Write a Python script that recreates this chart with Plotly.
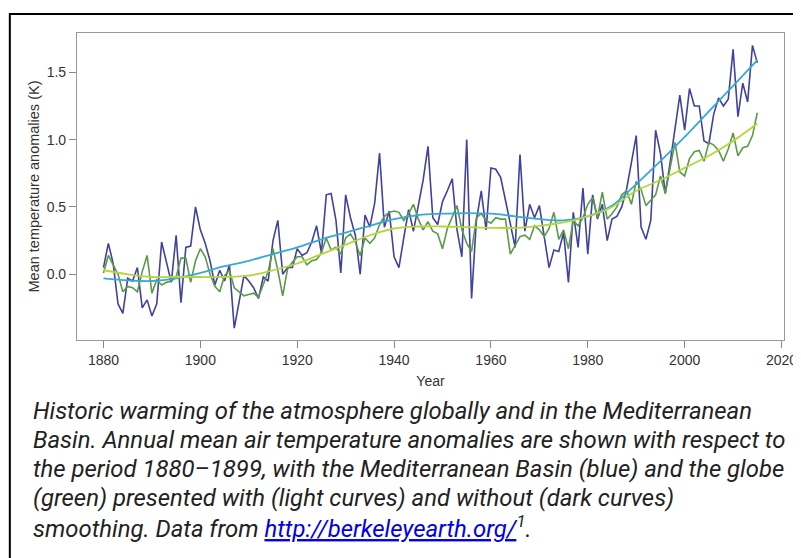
import plotly.graph_objects as go

years = list(range(1880, 2016))

med_annual = [
    0.05, 0.23, 0.08, -0.22, -0.29, -0.03, -0.05, 0.05, -0.25, -0.19,
    -0.31, -0.22, 0.24, 0.10, -0.06, 0.29, -0.21, 0.20, 0.21, 0.50,
    0.33, 0.23, 0.10, -0.08, 0.03, -0.05, 0.07, -0.40, -0.20, -0.01,
    -0.05, -0.10, -0.18, -0.02, -0.05, 0.25, 0.40, 0.00, 0.05, 0.05,
    0.19, 0.14, 0.16, 0.24, 0.36, 0.16, 0.59, 0.60, 0.40, 0.01,
    0.59, 0.42, 0.29, 0.00, 0.44, 0.35, 0.53, 0.90, 0.35, 0.47,
    0.13, 0.05, 0.27, 0.48, 0.32, 0.52, 0.70, 0.95, 0.42, 0.37,
    0.54, 0.62, 0.71, 0.33, 0.13, 1.00, -0.18, 0.40, 0.62, 0.33,
    0.79, 0.78, 0.72, 0.55, 0.38, 0.20, 0.89, 0.32, 0.52, 0.42,
    0.51, 0.27, 0.05, 0.18, 0.17, 0.31, -0.06, 0.46, 0.20, 0.64,
    0.15, 0.59, 0.41, 0.52, 0.25, 0.41, 0.43, 0.50, 0.63, 0.83,
    1.03, 0.35, 0.26, 0.40, 1.07, 0.90, 0.60, 0.83, 1.10, 1.33,
    1.07, 1.38, 1.25, 1.25, 0.99, 0.97, 1.19, 1.31, 1.25, 1.30,
    1.67, 1.17, 1.42, 1.28, 1.70, 1.57,
]

globe_annual = [
    0.01, 0.14, 0.07, 0.00, -0.13, -0.09, -0.10, -0.13, 0.02, 0.14,
    -0.14, -0.04, -0.08, -0.06, -0.05, -0.02, 0.12, 0.12, -0.06, 0.10,
    0.19, 0.13, 0.00, -0.09, -0.13, -0.01, 0.03, -0.10, -0.13, -0.16,
    -0.15, -0.14, -0.17, -0.07, 0.02, 0.19, 0.03, -0.16, 0.04, 0.09,
    0.13, 0.13, 0.07, 0.10, 0.11, 0.16, 0.27, 0.18, 0.20, 0.15,
    0.27, 0.30, 0.24, 0.14, 0.27, 0.23, 0.27, 0.37, 0.43, 0.46,
    0.47, 0.46, 0.40, 0.45, 0.52, 0.41, 0.33, 0.39, 0.32, 0.30,
    0.19, 0.34, 0.42, 0.51, 0.33, 0.23, 0.17, 0.42, 0.45, 0.40,
    0.38, 0.42, 0.41, 0.41, 0.15, 0.22, 0.28, 0.29, 0.26, 0.36,
    0.33, 0.28, 0.34, 0.46, 0.26, 0.33, 0.19, 0.40, 0.36, 0.42,
    0.52, 0.57, 0.42, 0.61, 0.41, 0.45, 0.50, 0.59, 0.62, 0.52,
    0.69, 0.63, 0.51, 0.55, 0.59, 0.73, 0.60, 0.79, 0.98, 0.76,
    0.73, 0.86, 0.91, 0.92, 0.84, 0.98, 0.96, 0.92, 0.84, 0.93,
    1.05, 0.88, 0.94, 0.95, 1.03, 1.20,
]

smooth_years = list(range(1880, 2016, 5))
med_smooth = [
    -0.03, -0.045, -0.05, -0.03, 0.01, 0.06, 0.10, 0.15, 0.20, 0.26,
    0.31, 0.36, 0.41, 0.44, 0.45, 0.455, 0.45, 0.43, 0.41, 0.40,
    0.43, 0.51, 0.67, 0.84, 1.02, 1.21, 1.40, 1.59,
]
globe_smooth = [
    0.03, 0.00, -0.02, -0.02, -0.02, -0.02, -0.01, 0.03, 0.08, 0.15,
    0.22, 0.29, 0.34, 0.355, 0.355, 0.35, 0.345, 0.345, 0.36, 0.385,
    0.43, 0.50, 0.62, 0.70, 0.79, 0.88, 0.99, 1.12,
]

x_ticks = [1880, 1900, 1920, 1940, 1960, 1980, 2000, 2020]
y_ticks = [0.0, 0.5, 1.0, 1.5]

caption_lines = [
    "Historic warming of the atmosphere globally and in the Mediterranean",
    "Basin. Annual mean air temperature anomalies are shown with respect to",
    "the period 1880\u20131899, with the Mediterranean Basin (blue) and the globe",
    "(green) presented with (light curves) and without (dark curves)",
    "smoothing. Data from "
    "<a href=\"http://berkeleyearth.org/\" style=\"color:#0000ee;text-decoration:underline\">"
    "http://berkeleyearth.org/</a><sup>1</sup>.",
]

# page is offset by the 8px body margin; the figure is sized so it ends at the window edge
W, H = 793, 550
ML, MT, MR, MB = 69, 25, 4, 218
plot_w = W - ML - MR
plot_h = H - MT - MB


def px_x(page_x):
    return (page_x - 8 - ML) / plot_w


def px_y(page_y):
    return (H - MB - (page_y - 8)) / plot_h


fig = go.Figure()
fig.add_trace(go.Scatter(x=years, y=med_annual, mode="lines",
                         line=dict(color="#4141a0", width=1.6), showlegend=False))
fig.add_trace(go.Scatter(x=years, y=globe_annual, mode="lines",
                         line=dict(color="#5b9a48", width=1.6), showlegend=False))
fig.add_trace(go.Scatter(x=smooth_years, y=med_smooth, mode="lines",
                         line=dict(color="#36a9d6", width=1.8, shape="spline"),
                         showlegend=False))
fig.add_trace(go.Scatter(x=smooth_years, y=globe_smooth, mode="lines",
                         line=dict(color="#b6d53c", width=1.8, shape="spline"),
                         showlegend=False))

axis_font = dict(family="Liberation Sans, Arial, sans-serif", size=14, color="#333")

annotations = []
line_centres = [411, 440, 469, 498, 527]
for txt, yc in zip(caption_lines, line_centres):
    annotations.append(dict(
        text="<i>" + txt + "</i>", xref="paper", yref="paper",
        x=px_x(30), y=px_y(yc), xanchor="left", yanchor="middle",
        align="left", showarrow=False,
        font=dict(family="Roboto, sans-serif", size=23.9, color="#222")))

fig.update_layout(
    width=W, height=H,
    margin=dict(l=ML, r=MR, t=MT, b=MB),
    paper_bgcolor="white", plot_bgcolor="white",
    font=axis_font,
    xaxis=dict(range=[1874.53, 2020.51], tickvals=x_ticks, ticks="outside",
               ticklen=7, tickcolor="#888", showline=True, linecolor="#999",
               linewidth=1.2, mirror=True, showgrid=False, zeroline=False,
               tickfont=axis_font, ticklabeloverflow="allow",
               title=dict(text="Year", font=axis_font, standoff=9)),
    yaxis=dict(range=[-0.488, 1.792], tickvals=y_ticks, tickformat=".1f",
               ticks="outside", ticklen=7, tickcolor="#888", showline=True,
               linecolor="#999", linewidth=1.2, mirror=True, showgrid=False,
               zeroline=False, tickfont=axis_font,
               title=dict(text="Mean temperature anomalies (K)",
                          font=dict(family="Liberation Sans, Arial, sans-serif",
                                    size=14.5, color="#333"), standoff=3)),
    shapes=[dict(type="rect", xref="paper", yref="paper",
                 x0=px_x(8.6), x1=1.2, y0=-1.0, y1=px_y(14),
                 line=dict(color="black", width=2), fillcolor="rgba(0,0,0,0)",
                 layer="below")],
    annotations=annotations,
)

fig.write_html("out.html")
